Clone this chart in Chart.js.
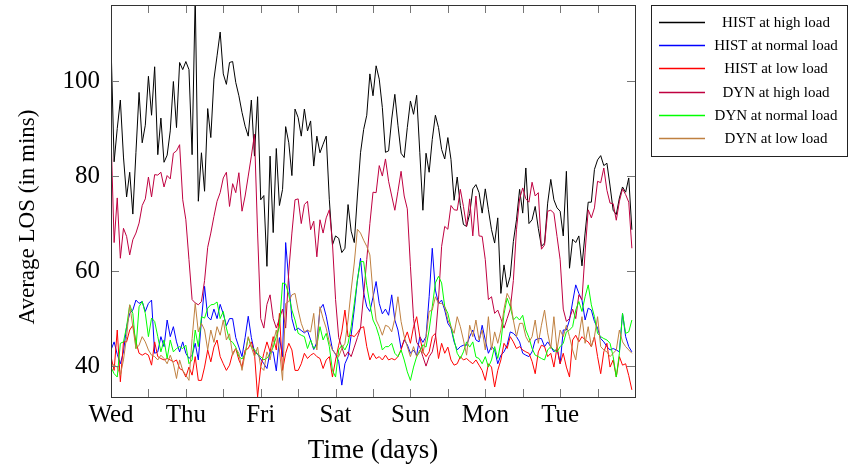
<!DOCTYPE html>
<html>
<head>
<meta charset="utf-8">
<title>Average LOS over the week</title>
<script src="https://cdn.jsdelivr.net/npm/chart.js@4.4.0/dist/chart.umd.min.js"></script>
<style>
  html, body { margin: 0; padding: 0; background: #fff; }
  #wrap { width: 854px; height: 469px; }
</style>
</head>
<body>
<div id="wrap"><canvas id="losChart" width="854" height="469"></canvas></div>
<script>
// hourly averages, Wednesday 00:00 through Tuesday 23:00
const dayLabels = ['Wed', 'Thu', 'Fri', 'Sat', 'Sun', 'Mon', 'Tue'];
const yTicks = [40, 60, 80, 100];

const histHigh = [
  108, 83, 90, 96, 84, 75.6, 80.8, 72, 85, 97.6,
  87, 90.7, 101, 92.8, 103, 84.5, 92.2, 82.9, 84.4, 89.5,
  99.9, 90.2, 103.9, 102.4, 104.1, 102.4, 84.5, 118, 74.7, 84.9,
  76.8, 94.2, 88.1, 100.4, 105.3, 110.3, 101.5, 99.3, 103.9, 104.1,
  99.7, 96.9, 93.4, 90.5, 88.4, 96, 84.2, 96.7, 75, 75.9,
  61, 84.2, 68.1, 85.8, 73.8, 77.2, 90.4, 87, 80.1, 94.1,
  92.3, 88.4, 94.1, 89.5, 91.6, 82.1, 88.4, 84.9, 86.7, 88.4,
  75, 65.5, 67.4, 66.9, 63.9, 64.8, 74, 68.4, 66, 75.8,
  84.9, 89.8, 92.8, 101.5, 96.9, 103.2, 100.4, 94.4, 85, 85.3,
  92, 97.2, 90.7, 84.8, 83.9, 90.2, 95.8, 93, 97, 85,
  72.8, 84.8, 80.8, 87.7, 92.8, 90.2, 85.6, 83.6, 88.1, 83.5,
  74.9, 79.8, 73.8, 69.8, 69.4, 72.1, 77.3, 78.2, 76.5, 72.2,
  77.3, 72.9, 68.7, 65.9, 71.2, 55.3, 61.3, 56.6, 58.9, 66.2,
  70.8, 77.2, 72.2, 81.7, 70, 70.8, 73.6, 69, 65.2, 65.9,
  74.3, 79.3, 75, 73.3, 72.6, 67.4, 81, 60.6, 66.7, 66,
  67.4, 61.1, 68, 74.5, 74.5, 81.4, 83.4, 84.3, 82.2, 82.7,
  77.9, 72.8, 71.9, 75.4, 77.7, 76.6, 79.6, 68.7
];

const histNormal = [
  43.4, 45.1, 42.5, 40.5, 43, 48.3, 51.1, 51.8, 53.9, 53.2,
  53.6, 51.5, 53.2, 53.9, 42.7, 43, 46.2, 44.1, 49.7, 46.2,
  48.3, 45.1, 43, 45.1, 42.7, 41.6, 42.3, 44.8, 41.3, 49.7,
  56.8, 50.4, 49.7, 52, 50, 53, 51, 48.5, 50, 50,
  46, 44, 42, 46, 50.5, 46, 43, 42.5, 41.5, 40.5,
  39.5, 43, 43, 39, 46, 42, 66, 58, 50, 47.5,
  48, 47.5, 47, 47.5, 45.5, 43.5, 45, 52, 53, 50.5,
  47, 43.5, 42.5, 41, 36, 40.5, 42, 46.5, 52, 58,
  62.7, 55.5, 52.5, 51.5, 54.5, 57.8, 53.2, 51, 52, 50.7,
  55, 49.7, 47.6, 43.7, 45.5, 44.5, 42.7, 43.4, 42.3, 46.2,
  45, 46.2, 54.6, 64.8, 56, 53.2, 53.9, 51.8, 49, 48,
  45.1, 43.4, 44.1, 44.4, 44.4, 46.2, 47.6, 45.5, 45.1, 48.6,
  45.5, 42.7, 44.1, 43.4, 40.5, 42.3, 43, 44.4, 47.2, 46.9,
  46.2, 45.1, 42.7, 42.3, 42, 43, 45.5, 45.8, 45.8, 44.1,
  45.1, 44.1, 43, 43.7, 40.5, 47.6, 47.6, 49.7, 53.5, 57.1,
  55.3, 53.9, 49.7, 52.2, 51.8, 49.4, 48, 45.8, 45.1, 44.1,
  43.4, 43.7, 43.4, 43, 51.1, 46.2, 44.1, 43
];

const histLow = [
  42, 39.1, 47.6, 36.7, 45.1, 45.1, 47.6, 48.6, 45.1, 42.7,
  42.3, 42.7, 42.3, 40.2, 45.1, 42, 41.6, 41.3, 41.6, 41.3,
  40.9, 41.3, 39.5, 39.1, 37.7, 39.8, 38.1, 42, 37, 37,
  39.8, 43.4, 40.9, 44, 45.5, 42, 40.5, 39.1, 40.2, 42.7,
  43.7, 41.3, 39.8, 43.4, 43.7, 45.1, 42.7, 33.5, 39.8, 42.7,
  45.1, 43, 46.2, 43.4, 51.1, 39.1, 42.7, 44.8, 43.4, 39.1,
  39.1, 40.5, 42.7, 41.6, 42.3, 42.7, 42, 41.6, 39.5, 41.3,
  42, 37.7, 41.3, 44.4, 47.2, 51.8, 46.2, 46.5, 46.2, 47,
  48, 48.3, 44.1, 41.3, 42.7, 41.6, 42, 41.3, 42.3, 41.3,
  41.6, 41.3, 42, 43.4, 45.5, 47.2, 44.8, 48.3, 50.4, 46.2,
  43, 42, 43, 46.2, 46.9, 41.6, 44.8, 42.7, 44, 41.3,
  40.2, 40.5, 42, 41.3, 41.6, 41, 40.5, 41.3, 40.2, 39.1,
  37, 40.5, 39.8, 35.6, 39.1, 41.3, 44.8, 43.7, 46.2, 45.1,
  43.7, 44.1, 43.4, 43, 42.7, 41, 38.4, 43, 44.4, 44.1,
  42, 42.7, 39.8, 44, 40.5, 42.7, 39.8, 37.7, 45.5, 46.5,
  45.1, 46.2, 45.5, 45.1, 44.1, 46.2, 42, 38.4, 43, 44.8,
  39.8, 41.3, 37.7, 42, 40.2, 40.5, 38, 35
];

const dynHigh = [
  89, 66, 75.4, 62.7, 69, 67.3, 63.4, 66.6, 68, 70.1,
  73.8, 75.2, 79.8, 75.6, 80.3, 80.2, 80.8, 77.7, 80.1, 79.4,
  84.8, 85.3, 86.6, 75, 70.8, 62.4, 54, 53.3, 52.9, 53.6,
  58, 65, 68, 71.5, 74.7, 76.5, 79.6, 80.8, 73.6, 78.4,
  76.5, 80.7, 72.6, 75.8, 80, 84.2, 88.8, 68, 50, 48,
  53, 55, 50, 48, 50, 52, 48, 60, 68, 75,
  75.2, 70, 74, 74.7, 68.7, 70.5, 63, 70.8, 68, 71.2,
  72.9, 65.9, 54, 46, 44, 42, 43, 42, 44, 46,
  48, 55, 62.4, 70, 76.6, 76.5, 82.2, 80, 83.6, 78.9,
  75.8, 72.8, 76.8, 81, 75.8, 73.1, 61, 50, 45, 44,
  42, 40, 42, 43, 46, 54, 65.2, 69.4, 68.8, 73.8,
  72.9, 72.8, 77.2, 73.6, 69.4, 75.2, 67.4, 75.8, 67.4, 67.3,
  62.4, 54, 54.6, 51.1, 51.8, 50, 48, 50, 52, 58,
  68.7, 75.2, 77.5, 75.2, 74.5, 78.7, 75.8, 76.5, 64.6, 65.5,
  72.6, 72.8, 72.2, 67.3, 62.4, 52, 49.4, 50, 52, 50,
  55, 54, 64, 72.9, 71.2, 73.3, 78.9, 78.6, 81.7, 77,
  74.3, 74.2, 70.7, 74.7, 77.3, 76.1, 74.5, 64.8
];

const dynNormal = [
  39.8, 38.4, 37.7, 44.8, 45.1, 48.3, 52.9, 51.1, 43.7, 52.5,
  53.6, 51.1, 46.2, 50.1, 49.4, 46.2, 43, 45.5, 41.6, 45.5,
  43, 43.7, 44.1, 43.7, 44.4, 40.5, 41.3, 47.6, 44.1, 50.4,
  50.1, 52.2, 52.9, 53, 53.5, 50, 51.5, 48, 45.5, 45,
  44, 42, 41.5, 42.5, 46, 44, 43.5, 42.5, 42, 41.3,
  41.7, 42.5, 44, 46.2, 48.3, 57.5, 57.3, 55, 51.8, 49.7,
  46.9, 46.5, 46.2, 43.7, 45.5, 43.7, 44.3, 48.3, 45.5, 46.9,
  44.1, 39.1, 37.7, 43.4, 44.4, 43.4, 44.8, 48.3, 53.2, 58.2,
  62, 62, 57, 53, 49.7, 48.3, 46.2, 43.4, 44.1, 44.1,
  44.8, 42.7, 42, 43.4, 41.3, 38.8, 37, 39.8, 42, 43,
  44.5, 44, 47.6, 52.5, 57.5, 58.9, 57.5, 52.5, 51.1, 48.3,
  45.5, 42.7, 41.6, 43, 45.1, 44, 45.1, 41.9, 41.6, 40.5,
  42, 39.8, 41.3, 44.1, 41.6, 45, 51, 54.3, 52.5, 49.7,
  50.4, 49.7, 50.7, 47.6, 46, 43.7, 42.3, 42, 41.6, 41.3,
  43.4, 44.1, 43.4, 43, 44.1, 44.8, 47.2, 47.6, 48.3, 51.8,
  53.6, 51.5, 54.6, 57.1, 52.9, 50.4, 46.9, 46.2, 45.8, 45.5,
  44.8, 42, 37.7, 42.7, 51.1, 46.9, 47.2, 49.7
];

const dynLow = [
  40.5, 40.2, 39.8, 38.1, 41.3, 46.2, 52.9, 48.3, 43.7, 44.4,
  46.2, 45.1, 43.4, 42.3, 42, 41.3, 42.3, 41.6, 40.5, 42.3,
  40.5, 37.4, 41.3, 39.1, 38.1, 37, 45.8, 53.2, 47.2, 49,
  47.6, 43.4, 47.6, 45, 48.3, 46.5, 49.7, 45.5, 46.8, 42.3,
  43.7, 42.7, 39.1, 42.7, 46.2, 44, 42, 44, 39.8, 39.1,
  43, 41.3, 45, 47.6, 43.4, 37, 53.2, 53.6, 55, 55.3,
  51.8, 49, 47.2, 47.6, 47.2, 51.1, 43.4, 52.5, 50, 48,
  45, 43.4, 42.5, 42, 43.7, 44.8, 49.7, 56, 61.7, 68.8,
  68, 66.5, 65.2, 63.4, 55.3, 49.7, 48.3, 46.5, 48.6, 48.3,
  47.2, 50, 54.6, 49.4, 46.2, 44.1, 42, 44.1, 42, 43.4,
  42.7, 46, 51.5, 51.8, 54.6, 53.2, 53.2, 52.5, 49.7, 48.3,
  46.9, 50.4, 48.3, 45.5, 42.3, 48.6, 46.2, 49.7, 45.5, 47.6,
  43.4, 50.4, 43.4, 47.2, 44.8, 47.6, 52, 55.3, 54, 49.7,
  46.2, 49, 49, 46.2, 45, 46.2, 49.7, 44.8, 48.6, 51.8,
  47, 43.7, 50.4, 43.4, 47.6, 46.2, 48.6, 46.2, 43.4, 41.3,
  46.2, 50.4, 44.8, 48.3, 44.1, 46.2, 50.4, 44.1, 43.4, 43,
  42, 42.7, 43.4, 47.6, 45.1, 44.1, 43.4, 42.7
];

const serif = "'Liberation Serif', 'Times New Roman', serif";
const yTitle = 'Average LOS (in mins)';

function toPoints(values) {
  return values.map((v, i) => ({ x: i, y: v }));
}

function makeSeries(label, values, color, order) {
  return {
    label: label,
    data: toPoints(values),
    borderColor: color,
    backgroundColor: color,
    borderWidth: 1,
    pointRadius: 0,
    tension: 0,
    fill: false,
    order: order
  };
}

// pgfplots-style frame with inward ticks on all four sides
const frameTicks = {
  id: 'frameTicks',
  afterDatasetsDraw(chart) {
    const { ctx, chartArea: a, scales } = chart;
    const len = 8;
    ctx.save();
    ctx.strokeStyle = '#777';
    ctx.lineWidth = 1;
    ctx.beginPath();
    scales.x.ticks.forEach(t => {
      const px = Math.round(scales.x.getPixelForValue(t.value)) + 0.5;
      if (px <= a.left + 1 || px >= a.right - 1) return;
      ctx.moveTo(px, a.bottom); ctx.lineTo(px, a.bottom - len);
      ctx.moveTo(px, a.top); ctx.lineTo(px, a.top + len);
    });
    scales.y.ticks.forEach(t => {
      const py = Math.round(scales.y.getPixelForValue(t.value)) + 0.5;
      ctx.moveTo(a.left, py); ctx.lineTo(a.left + len, py);
      ctx.moveTo(a.right, py); ctx.lineTo(a.right - len, py);
    });
    ctx.stroke();
    ctx.strokeStyle = '#333';
    ctx.strokeRect(Math.round(a.left) + 0.5, Math.round(a.top) + 0.5,
                   Math.round(a.right - a.left), Math.round(a.bottom - a.top));
    ctx.restore();
  }
};

// rotated y-axis caption, and the boxed legend to the right of the plot
const sideLegend = {
  id: 'sideLegend',
  afterDraw(chart) {
    const { ctx } = chart;
    ctx.save();
    ctx.fillStyle = '#000';
    ctx.font = '23px ' + serif;
    ctx.textAlign = 'center';
    ctx.textBaseline = 'middle';
    ctx.translate(28, 217);
    ctx.rotate(-Math.PI / 2);
    ctx.fillText(yTitle, 0, 0);
    ctx.restore();

    const box = { x: 651.5, y: 5.5, w: 196, h: 151 };
    ctx.save();
    ctx.fillStyle = '#fff';
    ctx.fillRect(box.x, box.y, box.w, box.h);
    ctx.strokeStyle = '#222';
    ctx.lineWidth = 1;
    ctx.strokeRect(box.x, box.y, box.w, box.h);
    ctx.font = '15px ' + serif;
    ctx.textAlign = 'center';
    ctx.textBaseline = 'middle';
    chart.data.datasets.forEach((ds, i) => {
      const y = Math.round(22 + i * 23.2) + 0.5;
      ctx.strokeStyle = ds.borderColor;
      ctx.lineWidth = 1.5;
      ctx.beginPath();
      ctx.moveTo(659, y);
      ctx.lineTo(705, y);
      ctx.stroke();
      ctx.fillStyle = '#000';
      ctx.fillText(ds.label, 776, y + 1);
    });
    ctx.restore();
  }
};

const ctx = document.getElementById('losChart').getContext('2d');
new Chart(ctx, {
  type: 'line',
  data: {
    datasets: [
      makeSeries('HIST at high load', histHigh, '#000000', 6),
      makeSeries('HIST at normal load', histNormal, '#0000ff', 5),
      makeSeries('HIST at low load', histLow, '#ff0000', 4),
      makeSeries('DYN at high load', dynHigh, '#bf0040', 3),
      makeSeries('DYN at normal load', dynNormal, '#00ff00', 2),
      makeSeries('DYN at low load', dynLow, '#bf8040', 1)
    ]
  },
  options: {
    responsive: false,
    animation: false,
    devicePixelRatio: 1,
    layout: { padding: { left: 0, top: 5, right: 219, bottom: 0 } },
    plugins: {
      legend: { display: false },
      tooltip: { enabled: false }
    },
    scales: {
      x: {
        type: 'linear',
        min: 0,
        max: 168,
        grid: { display: false, drawTicks: false },
        border: { display: false },
        afterBuildTicks: scale => {
          const ticks = [];
          for (let h = 0; h < 168; h += 12) ticks.push({ value: h });
          scale.ticks = ticks;
        },
        afterFit: scale => {
          scale.height = 72;
          scale.paddingLeft = 0;
          scale.paddingRight = 0;
        },
        ticks: {
          autoSkip: false,
          maxRotation: 0,
          padding: 3,
          color: '#000',
          font: { family: serif, size: 25 },
          callback: v => (v % 24 === 0 ? dayLabels[v / 24] : '')
        },
        title: {
          display: true,
          text: 'Time (days)',
          color: '#000',
          font: { family: serif, size: 27 },
          padding: { top: 0, bottom: 2 }
        }
      },
      y: {
        min: 33.5,
        max: 116,
        grid: { display: false, drawTicks: false },
        border: { display: false },
        afterBuildTicks: scale => {
          scale.ticks = yTicks.map(v => ({ value: v }));
        },
        afterFit: scale => {
          scale.width = 111;
          scale.paddingTop = 0;
          scale.paddingBottom = 0;
        },
        ticks: {
          padding: 11,
          color: '#000',
          font: { family: serif, size: 25 },
          callback: v => String(v)
        }
      }
    }
  },
  plugins: [frameTicks, sideLegend]
});
</script>
</body>
</html>
